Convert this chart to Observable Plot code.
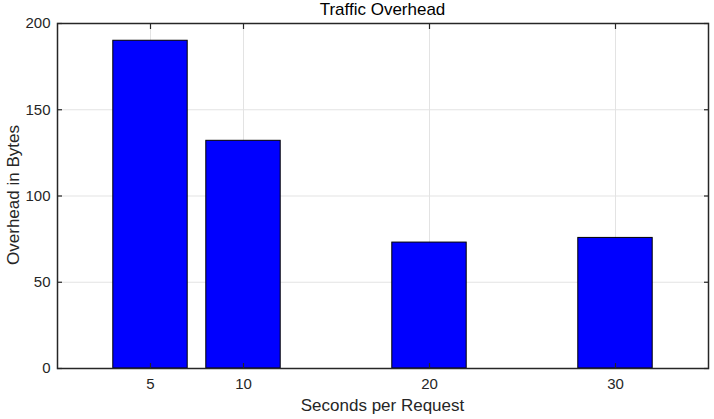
<!DOCTYPE html>
<html>
<head>
<meta charset="utf-8">
<script src="https://cdn.jsdelivr.net/npm/d3@7"></script>
<script src="https://cdn.jsdelivr.net/npm/@observablehq/plot@0.6"></script>
<style>
  html, body { margin: 0; padding: 0; background: #fff; }
  #chart svg { display: block; }
</style>
</head>
<body>
<div id="chart"></div>
<script>
const seconds = [5, 10, 20, 30];
const overhead = [190, 132, 73, 75.7];
const xTicks = [5, 10, 20, 30];
const yTicks = [0, 50, 100, 150, 200];
const barWidth = 4;

const data = seconds.map((s, i) => ({x: s, y: overhead[i]}));
const font = "'Liberation Sans', Arial, Helvetica, sans-serif";

const chart = Plot.plot({
  width: 714,
  height: 419,
  marginLeft: 57,
  marginRight: 6,
  marginTop: 23,
  marginBottom: 51,
  style: {fontFamily: font, fontSize: "15px", color: "#262626", background: "#fff"},
  x: {domain: [0, 35]},
  y: {domain: [0, 200]},
  marks: [
    Plot.ruleX(xTicks, {stroke: "#e3e3e3", strokeWidth: 1}),
    Plot.ruleY(yTicks, {stroke: "#e3e3e3", strokeWidth: 1}),
    Plot.rectY(data, {x1: d => d.x - barWidth / 2, x2: d => d.x + barWidth / 2, y: "y", fill: "#0000ff", stroke: "#000", strokeWidth: 1}),
    Plot.frame({stroke: "#262626", strokeWidth: 1.5}),
    Plot.axisX(xTicks, {anchor: "bottom", tickSize: -5, tickPadding: 15, fontSize: 15, stroke: "#262626", strokeWidth: 1.2, label: null}),
    Plot.axisX(xTicks, {anchor: "top", tickSize: -5, stroke: "#262626", strokeWidth: 1.2, text: null, label: null}),
    Plot.axisY(yTicks, {anchor: "left", tickSize: -5, tickPadding: 12, fontSize: 15, stroke: "#262626", strokeWidth: 1.2, label: null}),
    Plot.axisY(yTicks, {anchor: "right", tickSize: -5, stroke: "#262626", strokeWidth: 1.2, text: null, label: null})
  ]
});

const wrap = document.getElementById("chart");
wrap.style.position = "relative";
wrap.appendChild(chart);

function addText(txt, css) {
  const el = document.createElement("div");
  el.textContent = txt;
  el.style.cssText = `position:absolute;font-family:${font};font-size:17px;line-height:20px;color:#262626;white-space:nowrap;` + css;
  wrap.appendChild(el);
}
addText("Traffic Overhead", "left:57px;width:651px;top:0px;text-align:center;color:#000;");
addText("Seconds per Request", "left:57px;width:651px;top:396px;text-align:center;");
addText("Overhead in Bytes", "left:14px;top:195px;transform:translate(-50%,-50%) rotate(-90deg);");
</script>
</body>
</html>
